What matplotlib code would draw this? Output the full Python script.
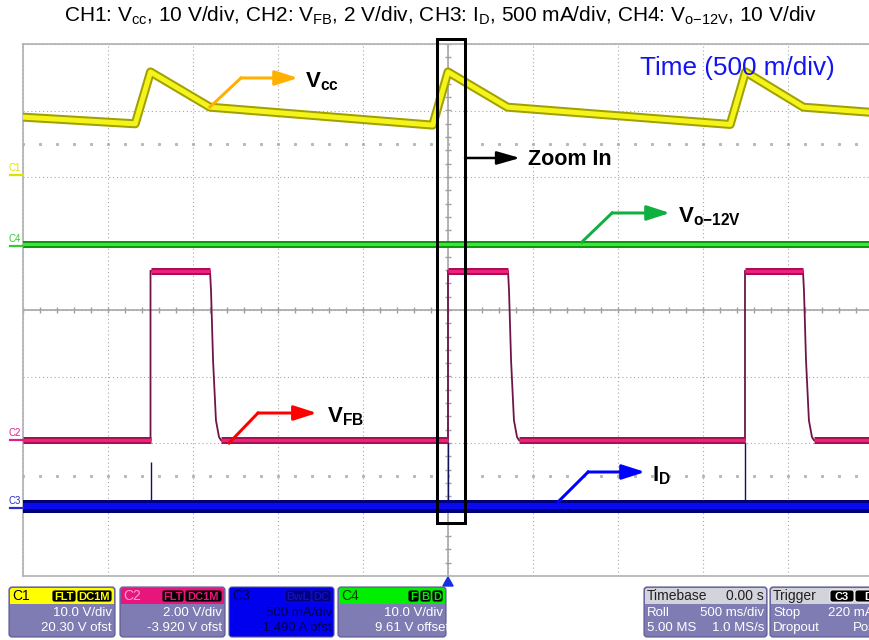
import numpy as np
import matplotlib
matplotlib.use('Agg')
import matplotlib.pyplot as plt
from matplotlib import transforms
from matplotlib.patches import Rectangle, FancyBboxPatch, Polygon

plt.rcParams['font.family'] = ['Liberation Sans', 'DejaVu Sans']
plt.rcParams['mathtext.fontset'] = 'custom'
plt.rcParams['mathtext.rm'] = 'Liberation Sans'
plt.rcParams['mathtext.bf'] = 'Liberation Sans:bold'
plt.rcParams['mathtext.it'] = 'Liberation Sans:italic'

# scope settings: unit per div and offset, as shown in the readout
ch_scale = {'C1': 10.0, 'C2': 2.0, 'C3': 0.5, 'C4': 10.0}
ch_ofst = {'C1': 20.30, 'C2': -3.920, 'C3': -1.490, 'C4': 9.61}

# time in s relative to the trigger (500 ms/div, 10 div)
vcc_t = [-2.5, -1.84, -1.75, -1.40, -0.09, 0.0, 0.35, 1.66, 1.75, 2.09, 2.5]
vcc_v = [8.7, 7.7, 15.5, 10.2, 7.5, 15.5, 10.2, 7.6, 15.5, 10.2, 9.4]

vfb_t = [-2.5, -1.75, -1.75, -1.40, -1.394, -1.382, -1.365, -1.347, -1.335,
         0.0, 0.0, 0.353, 0.359, 0.371, 0.388, 0.406, 0.418,
         1.747, 1.747, 2.088, 2.094, 2.106, 2.123, 2.141, 2.153, 2.5]
vfb_v = [0.0, 0.0, 5.1, 5.1, 4.5, 2.4, 0.6, 0.1, 0.0,
         0.0, 5.1, 5.1, 4.5, 2.4, 0.6, 0.1, 0.0,
         0.0, 5.1, 5.1, 4.5, 2.4, 0.6, 0.1, 0.0, 0.0]

vo_t = [-2.5, 2.5]
vo_v = [0.3, 0.3]

id_t = [-2.5, 2.5]
id_a = [0.02, 0.02]
spike_t = [-1.75, 0.0, 1.747]
spike_a = [0.35, 0.50, 0.50]


def to_div(vals, ch):
    return (np.asarray(vals, dtype=float) + ch_ofst[ch]) / ch_scale[ch]


PT = 0.72  # points per pixel at dpi 100

fig = plt.figure(figsize=(8.7, 6.4), dpi=100, facecolor='white')
ax = fig.add_axes([23/870, 64/640, 850/870, 532/640])
ax.set_xlim(-2.5, 2.5)
ax.set_ylim(-4, 4)
ax.set_xticks(np.arange(-2.5, 2.51, 0.5))
ax.set_yticks(np.arange(-4, 4.1, 1))
ax.tick_params(length=0, labelbottom=False, labelleft=False)
ax.grid(color='#a8a8a8', lw=0.8, ls=(0, (1, 2.5)))
for s in ax.spines.values():
    s.set_color('#b0b0b0')
    s.set_linewidth(1.2)

# centre crosshair with minor ticks
ax.axvline(0, color='#a0a0a0', lw=1.1, zorder=1)
ax.axhline(0, color='#a0a0a0', lw=1.1, zorder=1)
ax.vlines(np.arange(-2.5, 2.51, 0.1), -0.05, 0.05, color='#a0a0a0', lw=1, zorder=1)
ax.hlines(np.arange(-4, 4.01, 0.2), -0.02, 0.02, color='#a0a0a0', lw=1, zorder=1)
for yy in (2.5, -2.5):
    dx = np.arange(-2.5, 2.51, 0.1)
    ax.plot(dx, np.full(dx.shape, yy), ls='none', marker='s', ms=1.2,
            color='#b8b8b8', zorder=1)

# C1 Vcc
vcc_d = to_div(vcc_v, 'C1')
ax.plot(vcc_t, vcc_d, color='#a0a000', lw=9*PT, zorder=3)
ax.plot(vcc_t, vcc_d, color='#f4f41a', lw=5*PT, zorder=3.1)

# C4 Vo-12V
vo_d = to_div(vo_v, 'C4')
ax.plot(vo_t, vo_d, color='#0a9a0a', lw=7*PT, zorder=3)
ax.plot(vo_t, vo_d, color='#3ee33e', lw=3*PT, zorder=3.1)

# C2 VFB: thin edges, thick flat parts
vfb_d = to_div(vfb_v, 'C2')
ax.plot(vfb_t, vfb_d, color='#6e1448', lw=1.8*PT, zorder=4)
for i in range(len(vfb_t) - 1):
    if vfb_v[i] == vfb_v[i + 1] and vfb_t[i + 1] > vfb_t[i]:
        xs = [vfb_t[i], vfb_t[i + 1]]
        ys = [vfb_d[i], vfb_d[i + 1]]
        ax.plot(xs, ys, color='#a8104f', lw=7*PT, solid_capstyle='butt', zorder=4.1)
        ax.plot(xs, ys, color='#f0207f', lw=3*PT, solid_capstyle='butt', zorder=4.2)

# C3 ID
id_d = to_div(id_a, 'C3')
ax.vlines(spike_t, to_div([id_a[0]] * len(spike_t), 'C3'), to_div(spike_a, 'C3'),
          color='#12125a', lw=1.4*PT, zorder=4)
ax.plot(id_t, id_d, color='#00007a', lw=13*PT, zorder=4.5)
ax.plot(id_t, id_d, color='#0a0af0', lw=6*PT, zorder=4.6)

# zoom window
ax.add_patch(Rectangle((-0.065, -3.2), 0.165, 7.275, fill=False, ec='black',
                       lw=3*PT, clip_on=False, zorder=10))


def pointer(xs, ys, color, label, tx):
    ax.plot(xs[:2], ys[:2], color=color, lw=3*PT, zorder=9, clip_on=False)
    ax.annotate('', xy=(xs[2], ys[1]), xytext=(xs[1], ys[1]),
                arrowprops=dict(arrowstyle='-|>,head_length=1.4,head_width=0.45',
                                color=color, lw=3*PT, shrinkA=0, shrinkB=0,
                                mutation_scale=10), zorder=9)
    ax.text(tx, ys[1] - 0.14, label, fontsize=16, va='baseline', ha='left', zorder=9)


pointer([-1.40, -1.218, -0.882], [3.053, 3.489], '#ffb000',
        r'$\mathbf{V}_{\mathbf{cc}}$', -0.841)
pointer([0.788, 0.965, 1.306], [1.023, 1.459], '#10b040',
        r'$\mathbf{V}_{\mathbf{o{-}12V}}$', 1.353)
pointer([-1.288, -1.118, -0.771], [-2.0, -1.549], '#ff0000',
        r'$\mathbf{V}_{\mathbf{FB}}$', -0.712)
pointer([0.647, 0.824, 1.159], [-2.887, -2.436], '#0000ff',
        r'$\mathbf{I}_{\mathbf{D}}$', 1.2)

ax.annotate('', xy=(0.424, 2.286), xytext=(0.1, 2.286),
            arrowprops=dict(arrowstyle='-|>,head_length=1.4,head_width=0.4',
                            color='black', lw=2.5*PT, shrinkA=0, shrinkB=0,
                            mutation_scale=10), zorder=9)
ax.text(0.471, 2.286 - 0.105, 'Zoom In', fontsize=15.5, fontweight='bold',
        va='baseline', ha='left', zorder=9)

# overlay in pixel coordinates
ov = fig.add_axes([0, 0, 1, 1], zorder=5)
ov.set_xlim(0, 870)
ov.set_ylim(640, 0)
ov.axis('off')

ov.text(440, 16, r'CH1: V$_{\rm cc}$, 10 V/div, CH2: V$_{\rm FB}$, 2 V/div, '
        r'CH3: I$_{\rm D}$, 500 mA/div, CH4: V$_{\rm o{-}12V}$, 10 V/div',
        fontsize=15, ha='center', va='center')
ov.text(640, 68, 'Time (500 m/div)', fontsize=18.8, color='#1414f0',
        ha='left', va='center')

# channel ground markers left of the grid
mk = transforms.blended_transform_factory(ov.transData, ax.transData)
mk_color = {'C1': '#e0e000', 'C2': '#e0208a', 'C3': '#2b2bd0', 'C4': '#33cc33'}
for ch in ['C1', 'C2', 'C3', 'C4']:
    g = ch_ofst[ch] / ch_scale[ch]
    ax.plot([10, 23], [g, g], color=mk_color[ch], lw=2.2*PT, transform=mk,
            clip_on=False, zorder=6)
    ax.text(9, g + 0.035, ch, color=mk_color[ch], fontsize=7, ha='left',
            va='bottom', transform=mk, zorder=6)

# trigger position marker
tr = transforms.blended_transform_factory(ax.transData, ov.transData)
ov.add_patch(Polygon([(-0.03, 586), (0.03, 586), (0.0, 577)], closed=True,
                     color='#1530e0', transform=tr, clip_on=False))

LAV = '#7f7bb3'


def info_box(x0, x1, head, head_fg, body, left, right, badges,
             badge_bg, badge_fg, body_fg='white', body_bg=LAV):
    y0, y1, yh = 587, 637, 604
    box = FancyBboxPatch((x0, y0), x1 - x0, y1 - y0,
                         boxstyle='round,pad=0,rounding_size=3',
                         fc=body_bg, ec='#5a5690', lw=0.8)
    ov.add_patch(box)
    ov.add_patch(FancyBboxPatch((x0 + 1, y0 + 1), x1 - x0 - 2, yh - y0 - 1,
                                boxstyle='round,pad=0,rounding_size=2.5',
                                fc=head, ec='none'))
    ov.add_patch(Rectangle((x0 + 1, y0 + 8), x1 - x0 - 2, yh - y0 - 8,
                           fc=head, ec='none'))
    ov.text(x0 + 3, 596, left[0], fontsize=10, color=head_fg, va='center', ha='left')
    if right[0]:
        ov.text(x1 - 3, 596, right[0], fontsize=10, color=head_fg, va='center', ha='right')
    bx = x1 - 2
    for lab, w in reversed(badges):
        ov.add_patch(FancyBboxPatch((bx - w, 590), w - 1, 12,
                                    boxstyle='round,pad=0,rounding_size=2.5',
                                    fc=badge_bg, ec=badge_fg, lw=0.6))
        ov.text(bx - w / 2 - 0.5, 596.5, lab, fontsize=8, color=badge_fg,
                ha='center', va='center', fontweight='bold')
        bx -= w
    for k, yy in enumerate((613, 628)):
        if left[k + 1]:
            ov.text(x0 + 3, yy, left[k + 1], fontsize=9.5, color=body_fg,
                    va='center', ha='left')
        t = ov.text(right[3][k], yy, right[k + 1], fontsize=9.5, color=body_fg,
                    va='center', ha=right[4])
        t.set_clip_path(box)


info_box(9, 115, '#ffff00', 'black', LAV, ['C1', '', ''],
         ['', '10.0 V/div', '20.30 V ofst', (112, 112), 'right'],
         [('FLT', 25), ('DC1M', 36)], 'black', '#ffff00')
info_box(120, 225, '#e8167c', '#ff9fcf', LAV, ['C2', '', ''],
         ['', '2.00 V/div', '-3.920 V ofst', (222, 222), 'right'],
         [('FLT', 23), ('DC1M', 38)], 'black', '#e8167c')
info_box(229, 334, '#0000ee', '#00004a', '#0000ee', ['C3', '', ''],
         ['', '500 mA/div', '-1.490 A ofst', (332, 332), 'right'],
         [('BwL', 27), ('DC', 20)], '#000080', '#1010c0',
         body_fg='#000050', body_bg='#0000ee')
info_box(338, 446, '#00ee00', '#004000', LAV, ['C4', '', ''],
         ['', '10.0 V/div', '9.61 V offset', (443, 449), 'right'],
         [('F', 12), ('B', 12), ('D', 12)], 'black', '#00ee00')
info_box(644, 767, '#d3d3db', '#202020', LAV, ['Timebase', 'Roll', '5.00 MS'],
         ['0.00 s', '500 ms/div', '1.0 MS/s', (764, 764), 'right'],
         [], 'black', 'white')
info_box(770, 893, '#d3d3db', '#202020', LAV, ['Trigger', 'Stop', 'Dropout'],
         ['', '220 mA', 'Positive', (828, 853), 'left'],
         [('C3', 25), ('DC', 36)], 'black', 'white')

fig.savefig('out.png', dpi=100)
